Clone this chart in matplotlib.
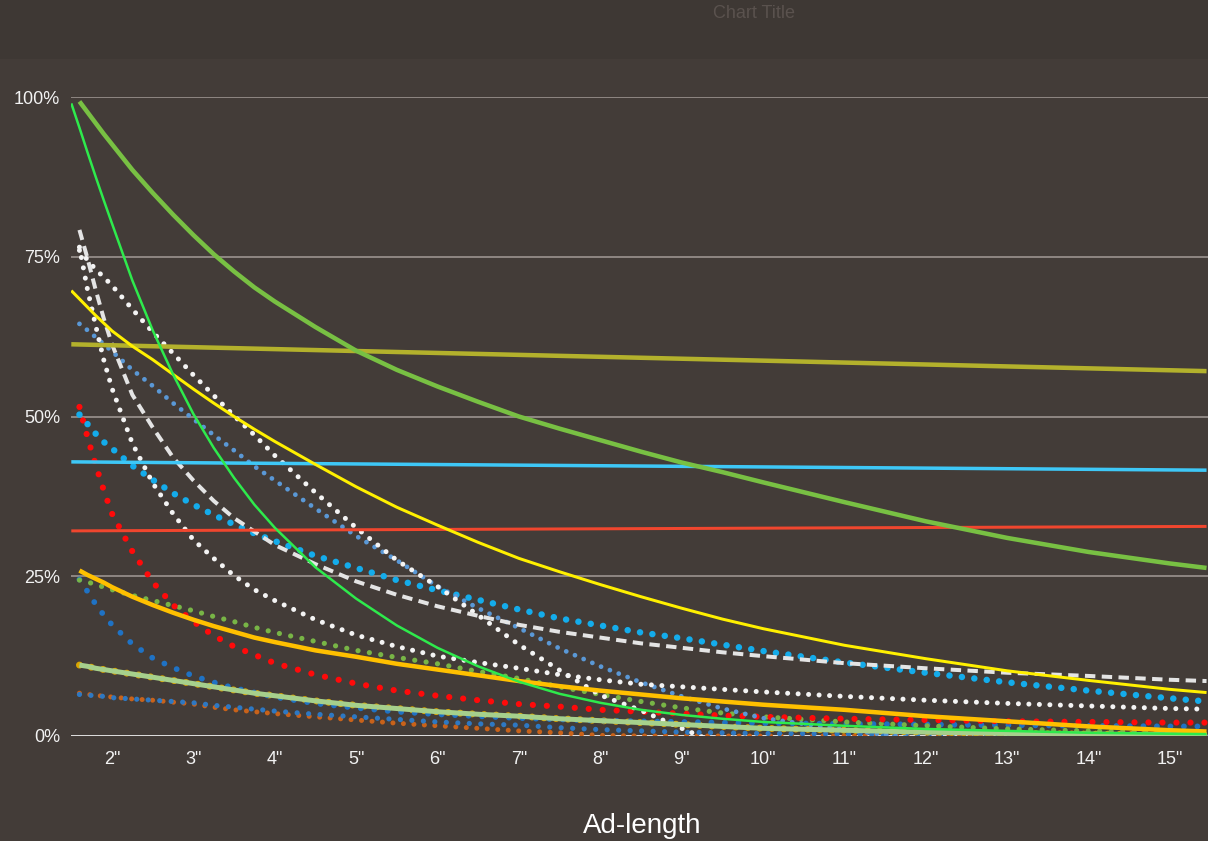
import numpy as np
import matplotlib.pyplot as plt
from matplotlib.patches import Rectangle

# ad length in seconds (shared x grid of the read-off values)
ad_len = [1.5, 1.6, 1.7, 1.8, 1.9, 2, 2.25, 2.5, 2.75, 3, 3.25, 3.5, 3.75, 4, 4.5, 5, 5.5, 6, 6.5,
          7, 7.5, 8, 8.5, 9, 9.5, 10, 11, 12, 13, 14, 15, 15.45]
x_ticks = [2, 3, 4, 5, 6, 7, 8, 9, 10, 11, 12, 13, 14, 15]
x_labels = [f'{t}"' for t in x_ticks]
y_ticks = [0, 0.25, 0.5, 0.75, 1.0]
y_labels = ['0%', '25%', '50%', '75%', '100%']

# values in %, None = not drawn
green_thick = [None, 99.3, 97.6, 95.9, 94.2, 92.6, 88.6, 85, 81.6, 78.4, 75.4, 72.7, 70.2, 68, 64.0, 60.3,
               57.3, 54.7, 52.3, 50.0, 48.1, 46.3, 44.5, 42.8, 41.3, 39.7, 36.6, 33.6, 31.0, 28.8, 27.0, 26.3]
green_thin = [99, 95.2, 91.3, 87.5, 83.8, 80.2, 71.3, 63.5, 56.6, 50.4, 45.1, 40.4, 36.2, 32.6, 26.4, 21.5,
              17.3, 13.8, 10.9, 8.5, 6.6, 5.2, 4.1, 3.3, 2.7, 2.2, 1.6, 1.1, 0.8, 0.5, 0.35, 0.3]
yellow = [69.7, 68.4, 67.1, 65.8, 64.6, 63.4, 61.0, 58.9, 56.6, 54.3, 52.1, 50, 48.0, 46.1, 42.5, 39,
          35.8, 33, 30.3, 27.8, 25.7, 23.7, 21.8, 20.0, 18.3, 16.8, 14.2, 12.1, 10.2, 8.7, 7.3, 6.8]
white_dash = [None, 79.2, 74.7, 69.8, 65.3, 61.3, 53.4, 48.3, 43.6, 40, 36.8, 34.1, 32.0, 29.9, 26.9, 24.2,
              22.1, 20.3, 18.8, 17.4, 16.3, 15.4, 14.5, 13.8, 13.1, 12.5, 11.4, 10.6, 9.9, 9.4, 8.8, 8.6]
white_dot_hi = [None, 76, 74.5, 73.0, 71.8, 70.5, 66.8, 63.2, 59.9, 56.5, 53.3, 50.1, 47.1, 43.9, 38.1, 32.6,
                27.5, 23.4, 18.9, 14.3, 10.3, 6.4, 4.0, 1.2, -1.5, None, None, None, None, None, None, None]
white_dot_lo = [None, 76.5, 69.8, 64.2, 58.8, 54.4, 45.8, 39.6, 34.8, 30.7, 27.8, 25.1, 22.9, 21.2, 18.2, 15.8,
                14.0, 12.5, 11.5, 10.6, 9.6, 8.8, 8.1, 7.7, 7.3, 6.9, 6.2, 5.6, 5.1, 4.7, 4.3, 4.2]
steel_dot = [None, 64.5, 63.5, 62.4, 61.3, 60.2, 57.3, 54.8, 52.1, 49.6, 47.1, 44.7, 42.2, 40.0, 35.6, 31.3,
             27.5, 23.4, 20.0, 16.9, 13.7, 10.9, 8.4, 6.2, 4.3, 2.8, 1.0, -0.6, None, None, None, None]
sky_dot = [None, 50.3, 48.8, 47.3, 46.0, 45.0, 42.3, 40.1, 38.0, 36.2, 34.6, 33.1, 31.7, 30.5, 28.2, 26.3,
           24.4, 22.8, 21.3, 19.8, 18.4, 17.3, 16.2, 15.3, 14.3, 13.3, 11.5, 9.9, 8.4, 7.1, 5.9, 5.4]
red_dot = [None, 51.5, 46.7, 42.4, 38.4, 34.8, 28.9, 24.1, 20.5, 17.9, 15.7, 14.0, 12.7, 11.4, 9.6, 8.2,
           7.1, 6.3, 5.6, 5.0, 4.6, 4.1, 3.8, 3.5, 3.2, 3.0, 2.7, 2.5, 2.3, 2.2, 2.1, 2.1]
gold = [None, 25.9, 25.2, 24.6, 24.0, 23.3, 21.8, 20.5, 19.3, 18.2, 17.2, 16.3, 15.4, 14.7, 13.4, 12.4,
        11.3, 10.4, 9.5, 8.6, 7.8, 7.1, 6.5, 5.9, 5.4, 4.9, 4.1, 3.1, 2.3, 1.5, 0.9, 0.7]
green_dot = [None, 24.4, 24.1, 23.7, 23.3, 22.9, 22.0, 21.2, 20.4, 19.6, 18.7, 17.9, 17.0, 16.2, 14.8, 13.4,
             12.3, 11.3, 10.1, 9.0, 7.7, 6.5, 5.4, 4.4, 3.6, 3.0, 2.2, 1.6, 1.1, 0.8, 0.6, 0.5]
blue_dot = [None, 24.5, 22.6, 20.6, 18.9, 17.4, 14.4, 12.2, 10.7, 9.4, 8.4, 7.5, 6.8, 6.1, 5.1, 4.4,
            3.8, 3.4, 3.1, 2.8, 2.6, 2.4, 2.3, 2.2, 2.1, 2.0, 1.9, 1.8, 1.7, 1.6, 1.5, 1.5]
blue_dot_lo = [None, 6.5, 6.4, 6.3, 6.2, 6.0, 5.8, 5.6, 5.4, 5.2, 4.8, 4.5, 4.2, 3.9, 3.4, 3.0,
               2.6, 2.2, 1.9, 1.7, 1.3, 1.0, 0.8, 0.6, 0.5, 0.4, 0.3, 0.2, 0.2, 0.1, 0.1, 0.1]
orange_dot = [None, 6.7, 6.5, 6.4, 6.2, 6.1, 5.8, 5.6, 5.3, 5.0, 4.5, 4.1, 3.8, 3.5, 3.0, 2.5,
              2.0, 1.6, 1.2, 0.8, 0.5, 0.1, 0, 0, 0, 0, 0, 0, 0, 0, 0, 0]
pale_green = [None, 11.1, 10.9, 10.6, 10.4, 10.2, 9.7, 9.2, 8.7, 8.2, 7.7, 7.2, 6.7, 6.3, 5.5, 4.8,
              4.3, 3.8, 3.4, 3.1, 2.7, 2.4, 2.1, 1.8, 1.5, 1.2, 0.9, 0.6, 0.4, 0.3, 0.2, 0.2]
gold_dot = [None, 11.1, 10.9, 10.6, 10.4, 10.2, 9.7, 9.2, 8.7, 8.2, 7.7, 7.2, 6.7, 6.3, 5.5, 4.8,
            4.3, 3.8, 3.4, 3.1, 2.7, 2.4, 2.1, 1.8, 1.5, 1.2, 0.9, 0.6, 0.4, 0.3, 0.2, 0.2]

# straight (linear) trend lines: start / end
flat_x = [1.5, 15.45]
olive_flat = [61.3, 57.1]
cyan_flat = [42.9, 41.6]
red_flat = [32.1, 32.8]

BG = '#433c38'

fig = plt.figure(figsize=(12.08, 8.41), dpi=100)
fig.patch.set_facecolor('#3e3834')
fig.patches.append(Rectangle((0, 0), 1, (841 - 59) / 841, transform=fig.transFigure,
                             facecolor=BG, edgecolor='none', zorder=-10))

ax = fig.add_axes([71.3 / 1208, 105 / 841, (1208 - 71.3) / 1208, 639 / 841])
ax.set_facecolor('none')
ax.set_zorder(5)
ax.set_xlim(1.5, 15.468)
ax.set_ylim(0, 1)

X = np.array(ad_len)


def pct(v):
    return np.array(v, dtype=float) / 100


def dotted(vals, color, diam_px, step_px, z=3):
    lw = diam_px * 0.72
    gap = step_px / diam_px - 0.01
    ax.plot(X, pct(vals), color=color, lw=lw, linestyle=(0, (0.01, gap)),
            dash_capstyle='round', solid_capstyle='round', zorder=z)


def solid(xs, vals, color, lw_px, z=4):
    ax.plot(xs, pct(vals), color=color, lw=lw_px * 0.72, solid_capstyle='butt', zorder=z)


# dotted series
dotted(orange_dot, '#c8621a', 5, 10.5)
dotted(blue_dot_lo, '#2e78c2', 5.2, 11.5)
dotted(gold_dot, '#d9a400', 7, 12)
dotted(blue_dot, '#1f72c4', 5.8, 13.5)
dotted(green_dot, '#78b546', 5.2, 11.5)
dotted(red_dot, '#ff0a0a', 6.2, 14)
dotted(sky_dot, '#14aceb', 6.5, 12.5)
dotted(steel_dot, '#5a98d6', 4.8, 9.5)
dotted(white_dot_lo, '#f4f4f4', 5, 10.5)
dotted(white_dot_hi, '#f4f4f4', 5, 10.5)

# dashed
ax.plot(X, pct(white_dash), color='#e4e4e4', lw=4 * 0.72, linestyle=(0, (2.6, 1.6)),
        dash_capstyle='butt', zorder=3)

# solid trend lines
solid(X, pale_green, '#a6d08c', 5)
solid(X, gold, '#ffc000', 4.5)
solid(flat_x, red_flat, '#f0462e', 3)
solid(flat_x, cyan_flat, '#3ec8f7', 3.5)
solid(flat_x, olive_flat, '#b3b12c', 4.5)
solid(X, yellow, '#fff000', 3)
solid(X, green_thick, '#78c043', 4.5)
solid(X, green_thin, '#2eea4c', 2.5, z=5)

# grid and axis line
for t in y_ticks[1:]:
    ax.axhline(t, color='#a39b96', lw=1.1, zorder=1)
ax.axhline(0, color='#ececec', lw=1.3, zorder=2)

for s in ax.spines.values():
    s.set_visible(False)

tick_font = {'family': 'Liberation Sans', 'size': 13, 'color': '#f2f2f2'}
ax.set_xticks(x_ticks)
ax.set_xticklabels(x_labels, **tick_font)
ax.set_yticks(y_ticks)
ax.set_yticklabels(y_labels, **tick_font)
ax.tick_params(axis='both', length=0)
ax.tick_params(axis='x', pad=11)
ax.tick_params(axis='y', pad=8)

fig.text(642 / 1208, 8 / 841, 'Ad-length', ha='center', va='baseline',
         family='Liberation Sans', fontsize=20, color='white')
fig.text(754 / 1208, 1 - 13 / 841, 'Chart Title', ha='center', va='center',
         family='Liberation Sans', fontsize=13, color='#5a524e')

fig.savefig('out.png', dpi=100, facecolor=fig.get_facecolor())
